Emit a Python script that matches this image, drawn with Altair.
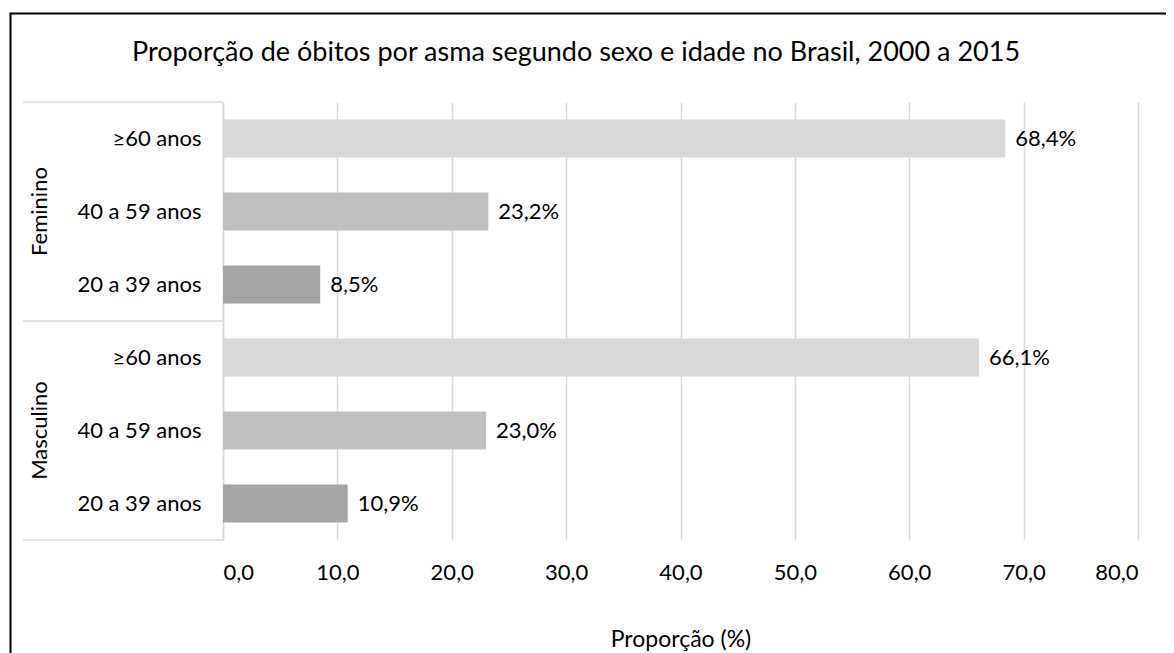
import altair as alt
import pandas as pd

sexo = ["Feminino", "Feminino", "Feminino", "Masculino", "Masculino", "Masculino"]
idade = ["≥60 anos", "40 a 59 anos", "20 a 39 anos", "≥60 anos", "40 a 59 anos", "20 a 39 anos"]
valores = [68.4, 23.2, 8.5, 66.1, 23.0, 10.9]
faixas = ["≥60 anos", "40 a 59 anos", "20 a 39 anos"]
cores = ["#d9d9d9", "#bfbfbf", "#a5a5a5"]
ticks_x = [0, 10, 20, 30, 40, 50, 60, 70, 80]
titulo = "Proporção de óbitos por asma segundo sexo e idade no Brasil, 2000 a 2015"
titulo_x = "Proporção (%)"

FONT = "Lato"
W, H = 915, 438

df = pd.DataFrame({"sexo": sexo, "idade": idade, "valor": valores})
df["key"] = df["sexo"] + "|" + df["idade"]
ordem = list(df["key"])

yscale = alt.Scale(domain=ordem, paddingInner=0.48, paddingOuter=0.24)
xscale = alt.Scale(domain=[0, 80], nice=False, zero=True)

base = alt.Chart(df)

bars = base.mark_bar().encode(
    x=alt.X("valor:Q", scale=xscale,
            axis=alt.Axis(values=ticks_x, grid=True, gridColor="#d9d9d9", gridWidth=1.5,
                          domain=False, ticks=False,
                          labelExpr="replace(format(datum.value, '.1f'), '.', ',')",
                          labelFont=FONT, labelFontSize=22, labelColor="#000000",
                          labelPadding=22, title=titulo_x, titleFont=FONT,
                          titleFontSize=23, titleFontWeight="normal", titleColor="#000000",
                          titlePadding=45)),
    y=alt.Y("key:N", scale=yscale, sort=ordem,
            axis=alt.Axis(title=None, domain=True, domainColor="#d9d9d9", domainWidth=1.5,
                          ticks=False, grid=False,
                          labelExpr="split(datum.label, '|')[1]",
                          labelFont=FONT, labelFontSize=22, labelColor="#000000",
                          labelPadding=22)),
    color=alt.Color("idade:N", scale=alt.Scale(domain=faixas, range=cores), legend=None),
)

labels = base.transform_calculate(
    lab="replace(format(datum.valor, '.1f'), '.', ',') + '%'"
).mark_text(align="left", baseline="middle", dx=10, font=FONT, fontSize=22,
            color="#000000").encode(
    x=alt.X("valor:Q", scale=xscale),
    y=alt.Y("key:N", scale=yscale, sort=ordem),
    text="lab:N",
)

grupos = pd.DataFrame({"sexo": ["Feminino", "Masculino"],
                       "key": ["Feminino|40 a 59 anos", "Masculino|40 a 59 anos"]})
sex_labels = alt.Chart(grupos).mark_text(angle=270, align="center", baseline="middle",
                                         font=FONT, fontSize=22, color="#000000").encode(
    x=alt.value(-183),
    y=alt.Y("key:N", scale=yscale, sort=ordem),
    text="sexo:N",
)

title_df = pd.DataFrame({"t": [titulo]})

sep_layers = [
    alt.Chart(title_df).mark_rule(color="#d9d9d9", strokeWidth=1.5).encode(
        x=alt.value(-200), x2=alt.value(0), y=alt.value(p))
    for p in [0, H / 2, H]
]

title_mark = alt.Chart(title_df).mark_text(align="center", baseline="middle", font=FONT,
                                           fontSize=27, color="#000000").encode(
    x=alt.value(353), y=alt.value(-49), text="t:N"
)

border = alt.Chart(title_df).mark_rect(fillOpacity=0, stroke="#000000", strokeWidth=2).encode(
    x=alt.value(-212.5), y=alt.value(-88.5), x2=alt.value(3000), y2=alt.value(3000)
)

chart = alt.layer(border, bars, labels, sex_labels, *sep_layers, title_mark).properties(
    width=W, height=H,
    background="#ffffff",
    autosize=alt.AutoSizeParams(type="none"),
    padding={"left": 215, "top": 94, "right": 28, "bottom": 113},
).configure_view(stroke=None, strokeWidth=0)

chart.save("out.html", embed_options={"renderer": "svg", "actions": False})
